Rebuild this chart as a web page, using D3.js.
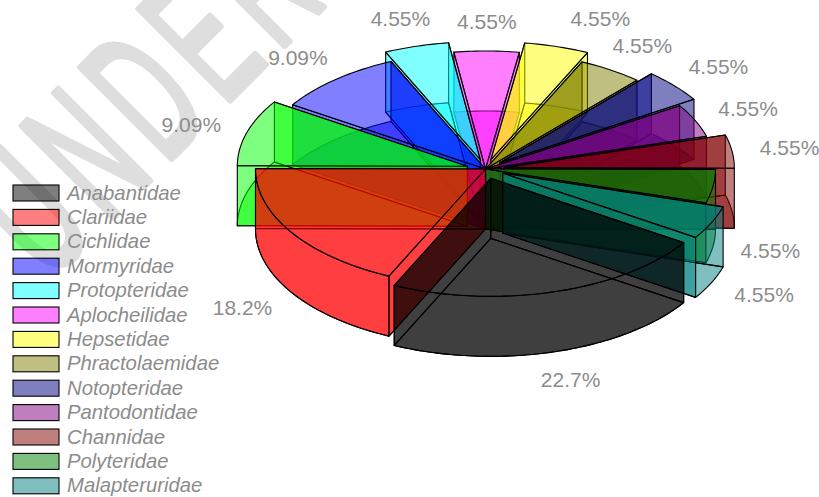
<!DOCTYPE html>
<html>
<head>
<meta charset="utf-8">
<script src="https://cdn.jsdelivr.net/npm/d3@7"></script>
<style>
    html, body { margin: 0; padding: 0; background: #fff; }
    svg { display: block; }
    text { font-family: "Liberation Sans", Arial, sans-serif; }
</style>
</head>
<body>
<svg id="chart" width="819" height="497"></svg>
<script>
var families = ["Anabantidae", "Clariidae", "Cichlidae", "Mormyridae", "Protopteridae", "Aplocheilidae",
    "Hepsetidae", "Phractolaemidae", "Notopteridae", "Pantodontidae", "Channidae", "Polyteridae", "Malapteruridae"];
var counts = [5, 4, 2, 2, 1, 1, 1, 1, 1, 1, 1, 1, 1];
var percentLabels = ["22.7%", "18.2%", "9.09%", "9.09%", "4.55%", "4.55%", "4.55%", "4.55%", "4.55%", "4.55%",
    "4.55%", "4.55%", "4.55%"];
var colours = ["#000000", "#ff0000", "#00ff00", "#0000ff", "#00ffff", "#ff00ff", "#ffff00", "#808000", "#000080",
    "#800080", "#800000", "#008000", "#008080"];

var svg = d3.select("#chart");
var width = 819, height = 497;

var cx = 485.5, cy = 169, rx = 230, ry = 118, depth = 60, pull = 19;
var faceAlpha = 0.5;

var x = d3.scaleLinear().domain([-1, 1]).range([cx - rx, cx + rx]);
var y = d3.scaleLinear().domain([-1, 1]).range([cy - ry, cy + ry]);
var colour = d3.scaleOrdinal().domain(families).range(colours);

// watermark sits behind everything
svg.append("text")
    .attr("transform", "translate(48,282) rotate(-45) scale(0.52,1)")
    .attr("font-size", 187)
    .attr("letter-spacing", 24)
    .attr("fill", "#dedede")
    .attr("stroke", "#dedede")
    .attr("stroke-width", 7)
    .attr("stroke-linejoin", "round")
    .text("UNDER");

var pie = d3.pie().sort(null).value(function (d) { return d; })
    .startAngle(123 * Math.PI / 180)
    .endAngle(483 * Math.PI / 180);

var slices = pie(counts).map(function (d, i) {
    var mid = (d.startAngle + d.endAngle) / 2;
    var e = i % 2 === 0 ? pull / rx : 0;
    return {
        i: i,
        name: families[i],
        label: percentLabels[i],
        start: d.startAngle,
        end: d.endAngle,
        mid: mid,
        pull: e,
        ox: e * Math.sin(mid),
        oy: -e * Math.cos(mid)
    };
});

function rim(s, a, drop) {
    return [x(s.ox + Math.sin(a)), y(s.oy - Math.cos(a)) + drop];
}

function apex(s, drop) {
    return [x(s.ox), y(s.oy) + drop];
}

function arcPoints(s, a0, a1, drop) {
    var steps = Math.max(2, Math.ceil((a1 - a0) / 0.02));
    return d3.range(steps + 1).map(function (k) {
        return rim(s, a0 + (a1 - a0) * k / steps, drop);
    });
}

var line = d3.line();
function closed(points) {
    return line(points) + "Z";
}

// back slices first so the front ones paint over them
var order = slices.slice().sort(function (a, b) {
    return Math.cos(b.mid) - Math.cos(a.mid);
});

var pieG = svg.append("g");

order.forEach(function (s) {
    var g = pieG.append("g")
        .attr("fill", colour(s.name))
        .attr("fill-opacity", faceAlpha)
        .attr("stroke", "#000")
        .attr("stroke-width", 1.1)
        .attr("stroke-linejoin", "round");

    // bottom
    g.append("path").attr("d", closed([apex(s, depth)].concat(arcPoints(s, s.start, s.end, depth))));

    // the two radial walls
    [s.start, s.end].forEach(function (a) {
        g.append("path").attr("d", closed([apex(s, 0), rim(s, a, 0), rim(s, a, depth), apex(s, depth)]));
    });

    // outer wall, only the part facing the viewer
    var a0 = Math.max(s.start, Math.PI / 2), a1 = Math.min(s.end, Math.PI * 1.5);
    if (a1 - a0 > 0.02) {
        g.append("path").attr("d", closed(arcPoints(s, a0, a1, 0).concat(arcPoints(s, a0, a1, depth).reverse())));
    }

    // top
    g.append("path").attr("d", closed([apex(s, 0)].concat(arcPoints(s, s.start, s.end, 0))));
});

// percent labels
svg.append("g")
    .selectAll("text")
    .data(slices)
    .enter()
    .append("text")
    .attr("x", function (d) {
        var nudge = d.name === "Hepsetidae" ? 27 : 0; // pushed away from its neighbour
        return cx + (288 + d.pull * rx) * Math.sin(d.mid) + nudge;
    })
    .attr("y", function (d) {
        var c = Math.cos(d.mid);
        var base = cy - (148 + d.pull * rx / 2) * c;
        return base + (c < 0 ? depth - 1 : 0) + 8;
    })
    .attr("text-anchor", "middle")
    .attr("font-size", 21)
    .attr("fill", "#8c8c8c")
    .text(function (d) { return d.label; });

// legend
var legend = svg.append("g")
    .selectAll("g")
    .data(families)
    .enter()
    .append("g")
    .attr("transform", function (d, i) {
        return "translate(13," + (185 + i * 24.4) + ")";
    });

legend.append("rect")
    .attr("width", 46)
    .attr("height", 16)
    .attr("fill", function (d) { return colour(d); })
    .attr("fill-opacity", faceAlpha)
    .attr("stroke", "#000")
    .attr("stroke-width", 1.1);

legend.append("text")
    .attr("x", 54)
    .attr("y", 14.5)
    .attr("font-size", 20.3)
    .attr("font-style", "italic")
    .attr("fill", "#8c8c8c")
    .text(function (d) { return d; });
</script>
</body>
</html>
